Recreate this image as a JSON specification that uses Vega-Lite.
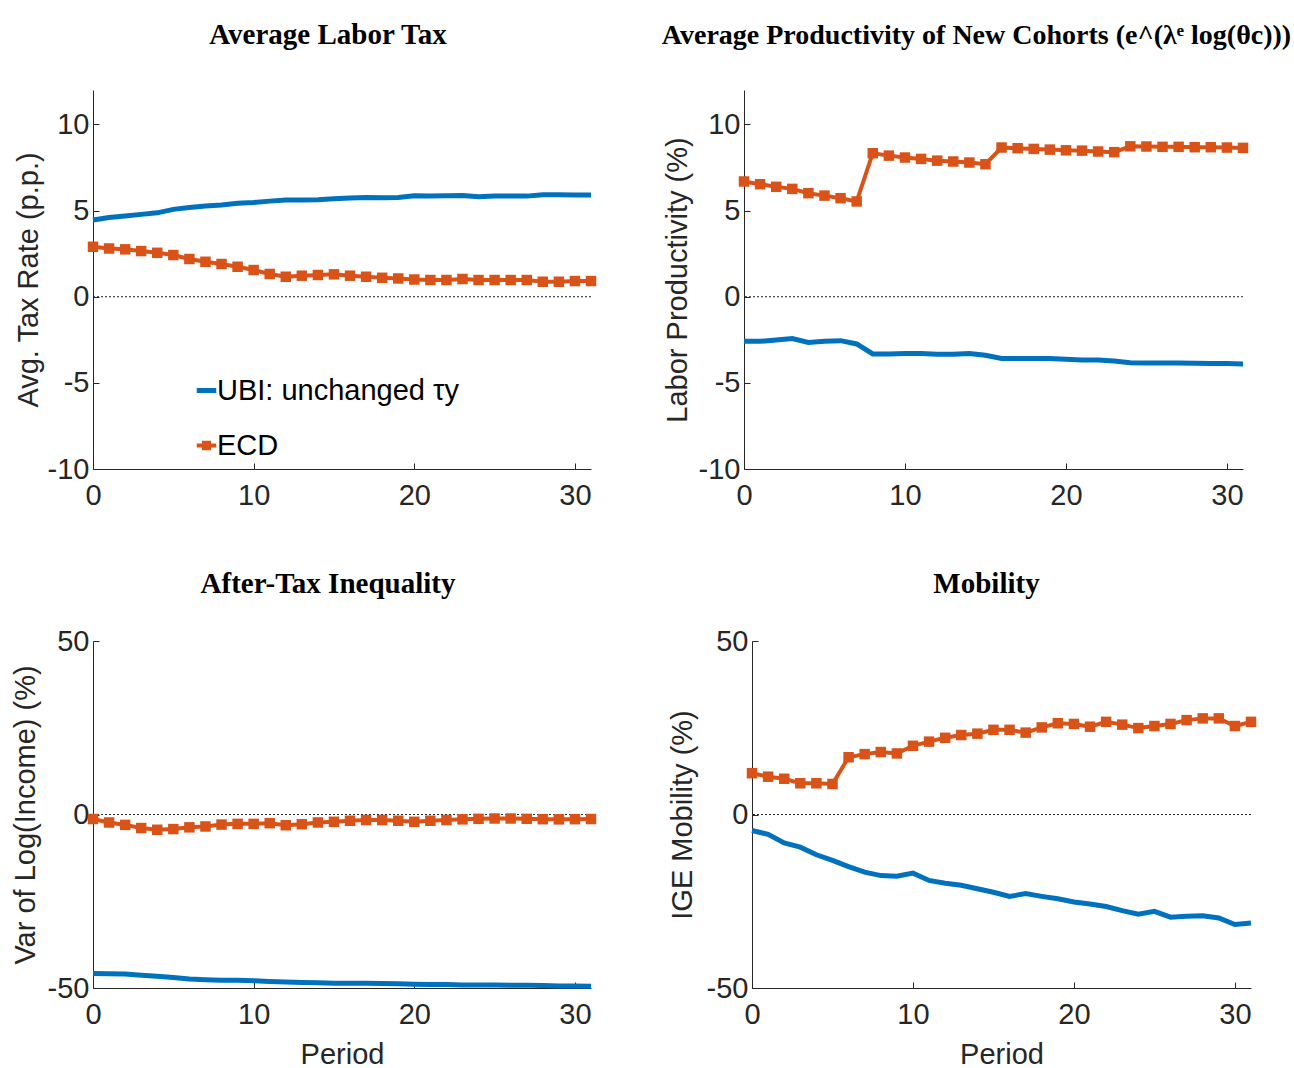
{
  "$schema": "https://vega.github.io/schema/vega-lite/v6.json",
  "padding": {"left": 11, "top": 21, "right": 0, "bottom": 0},
  "background": "#ffffff",
  "datasets": {
    "tax": [
      {"t":0,"s":"UBI","v":4.45},{"t":1,"s":"UBI","v":4.6},{"t":2,"s":"UBI","v":4.68},{"t":3,"s":"UBI","v":4.78},{"t":4,"s":"UBI","v":4.87},{"t":5,"s":"UBI","v":5.07},{"t":6,"s":"UBI","v":5.18},{"t":7,"s":"UBI","v":5.26},{"t":8,"s":"UBI","v":5.32},{"t":9,"s":"UBI","v":5.42},{"t":10,"s":"UBI","v":5.47},{"t":11,"s":"UBI","v":5.55},{"t":12,"s":"UBI","v":5.61},{"t":13,"s":"UBI","v":5.61},{"t":14,"s":"UBI","v":5.63},{"t":15,"s":"UBI","v":5.69},{"t":16,"s":"UBI","v":5.73},{"t":17,"s":"UBI","v":5.76},{"t":18,"s":"UBI","v":5.74},{"t":19,"s":"UBI","v":5.76},{"t":20,"s":"UBI","v":5.86},{"t":21,"s":"UBI","v":5.84},{"t":22,"s":"UBI","v":5.86},{"t":23,"s":"UBI","v":5.88},{"t":24,"s":"UBI","v":5.8},{"t":25,"s":"UBI","v":5.84},{"t":26,"s":"UBI","v":5.84},{"t":27,"s":"UBI","v":5.84},{"t":28,"s":"UBI","v":5.92},{"t":29,"s":"UBI","v":5.92},{"t":30,"s":"UBI","v":5.9},{"t":31,"s":"UBI","v":5.9},
      {"t":0,"s":"ECD","v":2.9},{"t":1,"s":"ECD","v":2.8},{"t":2,"s":"ECD","v":2.75},{"t":3,"s":"ECD","v":2.65},{"t":4,"s":"ECD","v":2.55},{"t":5,"s":"ECD","v":2.42},{"t":6,"s":"ECD","v":2.19},{"t":7,"s":"ECD","v":2.03},{"t":8,"s":"ECD","v":1.9},{"t":9,"s":"ECD","v":1.74},{"t":10,"s":"ECD","v":1.55},{"t":11,"s":"ECD","v":1.32},{"t":12,"s":"ECD","v":1.16},{"t":13,"s":"ECD","v":1.22},{"t":14,"s":"ECD","v":1.26},{"t":15,"s":"ECD","v":1.3},{"t":16,"s":"ECD","v":1.22},{"t":17,"s":"ECD","v":1.16},{"t":18,"s":"ECD","v":1.1},{"t":19,"s":"ECD","v":1.06},{"t":20,"s":"ECD","v":1.0},{"t":21,"s":"ECD","v":0.97},{"t":22,"s":"ECD","v":0.97},{"t":23,"s":"ECD","v":1.03},{"t":24,"s":"ECD","v":0.97},{"t":25,"s":"ECD","v":0.97},{"t":26,"s":"ECD","v":0.97},{"t":27,"s":"ECD","v":0.97},{"t":28,"s":"ECD","v":0.87},{"t":29,"s":"ECD","v":0.87},{"t":30,"s":"ECD","v":0.91},{"t":31,"s":"ECD","v":0.91}
    ],
    "prod": [
      {"t":0,"s":"UBI","v":-2.59},{"t":1,"s":"UBI","v":-2.59},{"t":2,"s":"UBI","v":-2.51},{"t":3,"s":"UBI","v":-2.43},{"t":4,"s":"UBI","v":-2.65},{"t":5,"s":"UBI","v":-2.59},{"t":6,"s":"UBI","v":-2.55},{"t":7,"s":"UBI","v":-2.74},{"t":8,"s":"UBI","v":-3.32},{"t":9,"s":"UBI","v":-3.32},{"t":10,"s":"UBI","v":-3.3},{"t":11,"s":"UBI","v":-3.29},{"t":12,"s":"UBI","v":-3.34},{"t":13,"s":"UBI","v":-3.34},{"t":14,"s":"UBI","v":-3.3},{"t":15,"s":"UBI","v":-3.4},{"t":16,"s":"UBI","v":-3.59},{"t":17,"s":"UBI","v":-3.59},{"t":18,"s":"UBI","v":-3.59},{"t":19,"s":"UBI","v":-3.59},{"t":20,"s":"UBI","v":-3.63},{"t":21,"s":"UBI","v":-3.67},{"t":22,"s":"UBI","v":-3.67},{"t":23,"s":"UBI","v":-3.73},{"t":24,"s":"UBI","v":-3.83},{"t":25,"s":"UBI","v":-3.85},{"t":26,"s":"UBI","v":-3.85},{"t":27,"s":"UBI","v":-3.85},{"t":28,"s":"UBI","v":-3.86},{"t":29,"s":"UBI","v":-3.88},{"t":30,"s":"UBI","v":-3.88},{"t":31,"s":"UBI","v":-3.9},
      {"t":0,"s":"ECD","v":6.69},{"t":1,"s":"ECD","v":6.53},{"t":2,"s":"ECD","v":6.38},{"t":3,"s":"ECD","v":6.26},{"t":4,"s":"ECD","v":6.01},{"t":5,"s":"ECD","v":5.87},{"t":6,"s":"ECD","v":5.72},{"t":7,"s":"ECD","v":5.53},{"t":8,"s":"ECD","v":8.33},{"t":9,"s":"ECD","v":8.19},{"t":10,"s":"ECD","v":8.08},{"t":11,"s":"ECD","v":8.0},{"t":12,"s":"ECD","v":7.9},{"t":13,"s":"ECD","v":7.85},{"t":14,"s":"ECD","v":7.79},{"t":15,"s":"ECD","v":7.69},{"t":16,"s":"ECD","v":8.66},{"t":17,"s":"ECD","v":8.62},{"t":18,"s":"ECD","v":8.58},{"t":19,"s":"ECD","v":8.54},{"t":20,"s":"ECD","v":8.5},{"t":21,"s":"ECD","v":8.48},{"t":22,"s":"ECD","v":8.43},{"t":23,"s":"ECD","v":8.39},{"t":24,"s":"ECD","v":8.73},{"t":25,"s":"ECD","v":8.72},{"t":26,"s":"ECD","v":8.7},{"t":27,"s":"ECD","v":8.7},{"t":28,"s":"ECD","v":8.68},{"t":29,"s":"ECD","v":8.68},{"t":30,"s":"ECD","v":8.66},{"t":31,"s":"ECD","v":8.64}
    ],
    "ineq": [
      {"t":0,"s":"UBI","v":-45.8},{"t":1,"s":"UBI","v":-45.9},{"t":2,"s":"UBI","v":-46.0},{"t":3,"s":"UBI","v":-46.3},{"t":4,"s":"UBI","v":-46.6},{"t":5,"s":"UBI","v":-47.0},{"t":6,"s":"UBI","v":-47.4},{"t":7,"s":"UBI","v":-47.6},{"t":8,"s":"UBI","v":-47.8},{"t":9,"s":"UBI","v":-47.8},{"t":10,"s":"UBI","v":-47.9},{"t":11,"s":"UBI","v":-48.1},{"t":12,"s":"UBI","v":-48.3},{"t":13,"s":"UBI","v":-48.4},{"t":14,"s":"UBI","v":-48.5},{"t":15,"s":"UBI","v":-48.6},{"t":16,"s":"UBI","v":-48.6},{"t":17,"s":"UBI","v":-48.6},{"t":18,"s":"UBI","v":-48.7},{"t":19,"s":"UBI","v":-48.8},{"t":20,"s":"UBI","v":-48.9},{"t":21,"s":"UBI","v":-49.0},{"t":22,"s":"UBI","v":-49.0},{"t":23,"s":"UBI","v":-49.1},{"t":24,"s":"UBI","v":-49.1},{"t":25,"s":"UBI","v":-49.1},{"t":26,"s":"UBI","v":-49.2},{"t":27,"s":"UBI","v":-49.2},{"t":28,"s":"UBI","v":-49.3},{"t":29,"s":"UBI","v":-49.4},{"t":30,"s":"UBI","v":-49.4},{"t":31,"s":"UBI","v":-49.5},
      {"t":0,"s":"ECD","v":-1.3},{"t":1,"s":"ECD","v":-2.3},{"t":2,"s":"ECD","v":-3.0},{"t":3,"s":"ECD","v":-3.9},{"t":4,"s":"ECD","v":-4.4},{"t":5,"s":"ECD","v":-4.2},{"t":6,"s":"ECD","v":-3.7},{"t":7,"s":"ECD","v":-3.45},{"t":8,"s":"ECD","v":-2.9},{"t":9,"s":"ECD","v":-2.7},{"t":10,"s":"ECD","v":-2.7},{"t":11,"s":"ECD","v":-2.5},{"t":12,"s":"ECD","v":-3.1},{"t":13,"s":"ECD","v":-2.8},{"t":14,"s":"ECD","v":-2.3},{"t":15,"s":"ECD","v":-2.1},{"t":16,"s":"ECD","v":-1.8},{"t":17,"s":"ECD","v":-1.6},{"t":18,"s":"ECD","v":-1.6},{"t":19,"s":"ECD","v":-1.8},{"t":20,"s":"ECD","v":-2.1},{"t":21,"s":"ECD","v":-1.8},{"t":22,"s":"ECD","v":-1.6},{"t":23,"s":"ECD","v":-1.4},{"t":24,"s":"ECD","v":-1.25},{"t":25,"s":"ECD","v":-1.15},{"t":26,"s":"ECD","v":-1.15},{"t":27,"s":"ECD","v":-1.25},{"t":28,"s":"ECD","v":-1.35},{"t":29,"s":"ECD","v":-1.4},{"t":30,"s":"ECD","v":-1.35},{"t":31,"s":"ECD","v":-1.3}
    ],
    "mob": [
      {"t":0,"s":"UBI","v":-4.6},{"t":1,"s":"UBI","v":-5.7},{"t":2,"s":"UBI","v":-8.2},{"t":3,"s":"UBI","v":-9.4},{"t":4,"s":"UBI","v":-11.6},{"t":5,"s":"UBI","v":-13.2},{"t":6,"s":"UBI","v":-15.0},{"t":7,"s":"UBI","v":-16.6},{"t":8,"s":"UBI","v":-17.6},{"t":9,"s":"UBI","v":-17.8},{"t":10,"s":"UBI","v":-16.9},{"t":11,"s":"UBI","v":-19.0},{"t":12,"s":"UBI","v":-19.8},{"t":13,"s":"UBI","v":-20.4},{"t":14,"s":"UBI","v":-21.4},{"t":15,"s":"UBI","v":-22.4},{"t":16,"s":"UBI","v":-23.6},{"t":17,"s":"UBI","v":-22.8},{"t":18,"s":"UBI","v":-23.6},{"t":19,"s":"UBI","v":-24.3},{"t":20,"s":"UBI","v":-25.2},{"t":21,"s":"UBI","v":-25.8},{"t":22,"s":"UBI","v":-26.5},{"t":23,"s":"UBI","v":-27.7},{"t":24,"s":"UBI","v":-28.7},{"t":25,"s":"UBI","v":-27.9},{"t":26,"s":"UBI","v":-29.6},{"t":27,"s":"UBI","v":-29.3},{"t":28,"s":"UBI","v":-29.2},{"t":29,"s":"UBI","v":-29.8},{"t":30,"s":"UBI","v":-31.7},{"t":31,"s":"UBI","v":-31.3},
      {"t":0,"s":"ECD","v":11.9},{"t":1,"s":"ECD","v":10.9},{"t":2,"s":"ECD","v":10.3},{"t":3,"s":"ECD","v":9.0},{"t":4,"s":"ECD","v":9.0},{"t":5,"s":"ECD","v":8.8},{"t":6,"s":"ECD","v":16.5},{"t":7,"s":"ECD","v":17.4},{"t":8,"s":"ECD","v":18.0},{"t":9,"s":"ECD","v":17.6},{"t":10,"s":"ECD","v":19.8},{"t":11,"s":"ECD","v":21.0},{"t":12,"s":"ECD","v":22.1},{"t":13,"s":"ECD","v":22.9},{"t":14,"s":"ECD","v":23.3},{"t":15,"s":"ECD","v":24.4},{"t":16,"s":"ECD","v":24.4},{"t":17,"s":"ECD","v":23.6},{"t":18,"s":"ECD","v":25.1},{"t":19,"s":"ECD","v":26.3},{"t":20,"s":"ECD","v":26.1},{"t":21,"s":"ECD","v":25.3},{"t":22,"s":"ECD","v":26.7},{"t":23,"s":"ECD","v":25.9},{"t":24,"s":"ECD","v":24.9},{"t":25,"s":"ECD","v":25.5},{"t":26,"s":"ECD","v":26.1},{"t":27,"s":"ECD","v":27.2},{"t":28,"s":"ECD","v":27.7},{"t":29,"s":"ECD","v":27.7},{"t":30,"s":"ECD","v":25.5},{"t":31,"s":"ECD","v":26.7}
    ]
  },
  "resolve": {"scale": {"color": "independent", "strokeWidth": "independent"}, "legend": {"color": "independent", "strokeWidth": "independent"}},
  "spacing": 60,
  "vconcat": [
    {
      "spacing": 60,
      "resolve": {"scale": {"color": "independent", "strokeWidth": "independent"}, "legend": {"color": "independent", "strokeWidth": "independent"}},
      "hconcat": [
        {
          "width": 498, "height": 379,
          "title": {"text": "Average Labor Tax", "offset": 40, "frame": "group", "anchor": "middle", "dx": -14},
          "layer": [
            {"data": {"values": [{"v": 0}]}, "mark": {"type": "rule", "strokeDash": [2, 2], "color": "#262626", "strokeWidth": 1},
             "encoding": {"y": {"field": "v", "type": "quantitative", "scale": {"domain": [-10, 12], "nice": false, "zero": false}, "axis": {"values": [-10, -5, 0, 5, 10], "title": "Avg. Tax Rate (p.p.)", "titlePadding": 4, "labelExpr": "'' + datum.value"}}}},
            {"data": {"name": "tax"}, "mark": {"type": "line"},
             "encoding": {
               "x": {"field": "t", "type": "quantitative", "scale": {"domain": [0, 31], "nice": false, "zero": false}, "axis": {"values": [0, 10, 20, 30], "title": null, "labelExpr": "'' + datum.value"}},
               "y": {"field": "v", "type": "quantitative", "scale": {"domain": [-10, 12], "nice": false, "zero": false}, "axis": {"values": [-10, -5, 0, 5, 10], "title": "Avg. Tax Rate (p.p.)", "titlePadding": 4, "labelExpr": "'' + datum.value"}},
               "color": {"field": "s", "type": "nominal", "scale": {"domain": ["UBI", "ECD"], "range": ["#0072BD", "#D95319"]},
                 "legend": {"orient": "none", "legendX": 99, "legendY": 286, "title": null, "padding": 0,
                   "labelFont": "Liberation Sans", "labelFontSize": 29, "labelColor": "#000000", "labelOffset": -4, "labelLimit": 0,
                   "symbolSize": 380, "rowPadding": 25, "symbolStrokeWidth": 5,
                   "labelExpr": "datum.value === 'UBI' ? 'UBI: unchanged τy' : 'ECD'",
                   "encode": {"symbols": {"update": {
                     "shape": {"signal": "datum.value === 'ECD' ? 'M-1,0H1M-0.27,-0.27H0.27V0.27H-0.27Z' : 'stroke'"},
                     "fill": {"signal": "datum.value === 'ECD' ? '#D95319' : 'transparent'"},
                     "stroke": {"signal": "datum.value === 'ECD' ? '#D95319' : '#0072BD'"},
                     "strokeWidth": {"signal": "datum.value === 'ECD' ? 4 : 5"},
                     "opacity": {"value": 1}}}}}},
               "strokeWidth": {"field": "s", "type": "nominal", "scale": {"domain": ["UBI", "ECD"], "range": [5, 4]}, "legend": null}
             }},
            {"data": {"name": "tax"}, "transform": [{"filter": "datum.s === 'ECD'"}],
             "mark": {"type": "point", "shape": "square", "filled": true, "size": 110, "opacity": 1, "color": "#D95319"},
             "encoding": {
               "x": {"field": "t", "type": "quantitative", "scale": {"domain": [0, 31], "nice": false, "zero": false}, "axis": {"values": [0, 10, 20, 30], "title": null, "labelExpr": "'' + datum.value"}},
               "y": {"field": "v", "type": "quantitative", "scale": {"domain": [-10, 12], "nice": false, "zero": false}, "axis": {"values": [-10, -5, 0, 5, 10], "title": "Avg. Tax Rate (p.p.)", "titlePadding": 4, "labelExpr": "'' + datum.value"}}
             }}
          ]
        },
        {
          "width": 499, "height": 379,
          "title": {"text": "Average Productivity of New Cohorts (e^(λᵉ log(θc)))", "fontSize": 28, "offset": 40, "frame": "group", "anchor": "middle", "dx": -17},
          "layer": [
            {"data": {"values": [{"v": 0}]}, "mark": {"type": "rule", "strokeDash": [2, 2], "color": "#262626", "strokeWidth": 1},
             "encoding": {"y": {"field": "v", "type": "quantitative", "scale": {"domain": [-10, 12], "nice": false, "zero": false}, "axis": {"values": [-10, -5, 0, 5, 10], "title": "Labor Productivity (%)", "titlePadding": 6, "labelExpr": "'' + datum.value"}}}},
            {"data": {"name": "prod"}, "mark": {"type": "line"},
             "encoding": {
               "x": {"field": "t", "type": "quantitative", "scale": {"domain": [0, 31], "nice": false, "zero": false}, "axis": {"values": [0, 10, 20, 30], "title": null, "labelExpr": "'' + datum.value"}},
               "y": {"field": "v", "type": "quantitative", "scale": {"domain": [-10, 12], "nice": false, "zero": false}, "axis": {"values": [-10, -5, 0, 5, 10], "title": "Labor Productivity (%)", "titlePadding": 6, "labelExpr": "'' + datum.value"}},
               "color": {"field": "s", "type": "nominal", "scale": {"domain": ["UBI", "ECD"], "range": ["#0072BD", "#D95319"]}, "legend": null},
               "strokeWidth": {"field": "s", "type": "nominal", "scale": {"domain": ["UBI", "ECD"], "range": [5, 4]}, "legend": null}
             }},
            {"data": {"name": "prod"}, "transform": [{"filter": "datum.s === 'ECD'"}],
             "mark": {"type": "point", "shape": "square", "filled": true, "size": 110, "opacity": 1, "color": "#D95319"},
             "encoding": {
               "x": {"field": "t", "type": "quantitative", "scale": {"domain": [0, 31], "nice": false, "zero": false}, "axis": {"values": [0, 10, 20, 30], "title": null, "labelExpr": "'' + datum.value"}},
               "y": {"field": "v", "type": "quantitative", "scale": {"domain": [-10, 12], "nice": false, "zero": false}, "axis": {"values": [-10, -5, 0, 5, 10], "title": "Labor Productivity (%)", "titlePadding": 6, "labelExpr": "'' + datum.value"}}
             }}
          ]
        }
      ]
    },
    {
      "spacing": 67,
      "resolve": {"scale": {"color": "independent", "strokeWidth": "independent"}, "legend": {"color": "independent", "strokeWidth": "independent"}},
      "hconcat": [
        {
          "width": 498, "height": 347,
          "title": {"text": "After-Tax Inequality", "offset": 28, "frame": "group", "anchor": "middle", "dx": -14},
          "layer": [
            {"data": {"values": [{"v": 0}]}, "mark": {"type": "rule", "strokeDash": [2, 2], "color": "#262626", "strokeWidth": 1},
             "encoding": {"y": {"field": "v", "type": "quantitative", "scale": {"domain": [-50, 50], "nice": false, "zero": false}, "axis": {"values": [-50, 0, 50], "title": "Var of Log(Income) (%)", "titlePadding": 7, "labelExpr": "'' + datum.value"}}}},
            {"data": {"name": "ineq"}, "mark": {"type": "line"},
             "encoding": {
               "x": {"field": "t", "type": "quantitative", "scale": {"domain": [0, 31], "nice": false, "zero": false}, "axis": {"values": [0, 10, 20, 30], "title": "Period", "titlePadding": 11, "labelExpr": "'' + datum.value"}},
               "y": {"field": "v", "type": "quantitative", "scale": {"domain": [-50, 50], "nice": false, "zero": false}, "axis": {"values": [-50, 0, 50], "title": "Var of Log(Income) (%)", "titlePadding": 7, "labelExpr": "'' + datum.value"}},
               "color": {"field": "s", "type": "nominal", "scale": {"domain": ["UBI", "ECD"], "range": ["#0072BD", "#D95319"]}, "legend": null},
               "strokeWidth": {"field": "s", "type": "nominal", "scale": {"domain": ["UBI", "ECD"], "range": [5, 4]}, "legend": null}
             }},
            {"data": {"name": "ineq"}, "transform": [{"filter": "datum.s === 'ECD'"}],
             "mark": {"type": "point", "shape": "square", "filled": true, "size": 110, "opacity": 1, "color": "#D95319"},
             "encoding": {
               "x": {"field": "t", "type": "quantitative", "scale": {"domain": [0, 31], "nice": false, "zero": false}, "axis": {"values": [0, 10, 20, 30], "title": "Period", "titlePadding": 11, "labelExpr": "'' + datum.value"}},
               "y": {"field": "v", "type": "quantitative", "scale": {"domain": [-50, 50], "nice": false, "zero": false}, "axis": {"values": [-50, 0, 50], "title": "Var of Log(Income) (%)", "titlePadding": 7, "labelExpr": "'' + datum.value"}}
             }}
          ]
        },
        {
          "width": 499, "height": 347,
          "title": {"text": "Mobility", "offset": 28, "frame": "group", "anchor": "middle", "dx": -15},
          "layer": [
            {"data": {"values": [{"v": 0}]}, "mark": {"type": "rule", "strokeDash": [2, 2], "color": "#262626", "strokeWidth": 1},
             "encoding": {"y": {"field": "v", "type": "quantitative", "scale": {"domain": [-50, 50], "nice": false, "zero": false}, "axis": {"values": [-50, 0, 50], "title": "IGE Mobility (%)", "titlePadding": 9, "labelExpr": "'' + datum.value"}}}},
            {"data": {"name": "mob"}, "mark": {"type": "line"},
             "encoding": {
               "x": {"field": "t", "type": "quantitative", "scale": {"domain": [0, 31], "nice": false, "zero": false}, "axis": {"values": [0, 10, 20, 30], "title": "Period", "titlePadding": 11, "labelExpr": "'' + datum.value"}},
               "y": {"field": "v", "type": "quantitative", "scale": {"domain": [-50, 50], "nice": false, "zero": false}, "axis": {"values": [-50, 0, 50], "title": "IGE Mobility (%)", "titlePadding": 9, "labelExpr": "'' + datum.value"}},
               "color": {"field": "s", "type": "nominal", "scale": {"domain": ["UBI", "ECD"], "range": ["#0072BD", "#D95319"]}, "legend": null},
               "strokeWidth": {"field": "s", "type": "nominal", "scale": {"domain": ["UBI", "ECD"], "range": [5, 4]}, "legend": null}
             }},
            {"data": {"name": "mob"}, "transform": [{"filter": "datum.s === 'ECD'"}],
             "mark": {"type": "point", "shape": "square", "filled": true, "size": 110, "opacity": 1, "color": "#D95319"},
             "encoding": {
               "x": {"field": "t", "type": "quantitative", "scale": {"domain": [0, 31], "nice": false, "zero": false}, "axis": {"values": [0, 10, 20, 30], "title": "Period", "titlePadding": 11, "labelExpr": "'' + datum.value"}},
               "y": {"field": "v", "type": "quantitative", "scale": {"domain": [-50, 50], "nice": false, "zero": false}, "axis": {"values": [-50, 0, 50], "title": "IGE Mobility (%)", "titlePadding": 9, "labelExpr": "'' + datum.value"}}
             }}
          ]
        }
      ]
    }
  ],
  "config": {
    "view": {"stroke": null},
    "axis": {"grid": false, "domainColor": "#262626", "domainWidth": 1, "tickColor": "#262626", "tickSize": -6, "tickWidth": 1,
      "labelFont": "Liberation Sans", "labelFontSize": 29, "labelColor": "#262626", "labelFlush": false, "labelOverlap": false,
      "titleFont": "Liberation Sans", "titleFontSize": 29, "titleFontWeight": "normal", "titleColor": "#262626"},
    "axisX": {"labelPadding": 18},
    "axisY": {"labelPadding": 10},
    "title": {"font": "Liberation Serif", "fontSize": 29, "fontWeight": "bold", "color": "#000000"}
  }
}
